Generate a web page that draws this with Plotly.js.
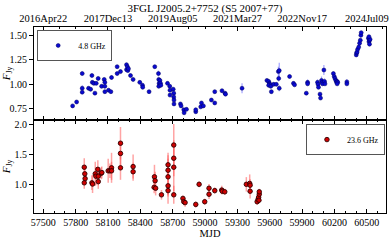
<!DOCTYPE html>
<html><head><meta charset="utf-8">
<script src="https://cdn.plot.ly/plotly-3.0.1.min.js"></script>
<style>html,body{margin:0;padding:0;background:#fff}#c{width:389px;height:240px}</style>
</head><body><div id="c"></div>
<script>
const mjd48 = [57772,57809,57861,57861,57861,57920,57939,57951,57955,57969,57979,57991,58009,58041,58065,58071,58071,58071,58105,58127,58133,58185,58185,58216,58272,58272,58280,58284,58290,58309,58333,58395,58420,58422,58481,58534,58568,58571,58574,58571,58582,58587,58590,58652,58673,58675,58675,58705,58710,58710,58712,58712,58772,58778,58803,58806,58828,58914,58914,58967,58960,58985,59059,59090,59090,59157,59185,59190,59343,59574,59590,59597,59600,59590,59610,59615,59636,59661,59680,59688,59683,59688,59784,59820,59830,59939,59951,59951,60043,60048,60052,60066,60071,60080,60085,60090,60102,60108,60112,60190,60198,60205,60213,60220,60225,60230,60225,60315,60315,60402,60405,60410,60415,60425,60433,60440,60445,60448,60515,60520,60525,60530,60525,60520];
const flux48 = [0.78,0.82,1.11,0.96,0.92,0.96,0.95,1.09,1.02,1.01,0.91,1.01,1.06,0.98,1.05,1.02,0.98,0.925,0.94,0.925,1.07,1.18,1.11,1.13,1.20,1.15,1.18,1.14,1.16,1.09,1.05,1.02,0.99,0.97,0.925,1.18,1.11,1.05,1.01,0.98,1.04,1.01,0.99,1.01,0.98,0.94,0.89,0.95,0.91,0.87,0.80,0.84,0.80,0.78,0.74,0.71,0.745,0.72,0.74,0.81,0.77,0.78,0.84,0.925,0.81,0.935,0.91,0.90,0.96,1.04,1.03,1.01,1.00,0.99,0.98,0.925,1.00,1.00,1.13,1.14,1.06,0.96,1.08,1.01,0.995,0.91,1.02,1.005,1.02,1.00,0.97,0.90,0.86,1.04,1.02,1.005,1.146,1.03,1.005,1.11,1.08,1.06,1.04,1.02,1.03,1.02,1.005,1.025,1.005,1.30,1.32,1.33,1.357,1.38,1.42,1.45,1.50,1.527,1.47,1.435,1.45,1.46,1.41,1.486];
const err48 = [0.015,0.015,0.02,0.03,0.02,0.02,0.02,0.02,0.02,0.02,0.015,0.02,0.02,0.02,0.02,0.02,0.02,0.02,0.02,0.02,0.025,0.02,0.02,0.02,0.02,0.02,0.02,0.02,0.02,0.02,0.02,0.02,0.02,0.02,0.02,0.02,0.03,0.02,0.02,0.02,0.02,0.02,0.02,0.02,0.02,0.02,0.02,0.02,0.02,0.02,0.02,0.02,0.02,0.02,0.02,0.02,0.02,0.02,0.02,0.02,0.02,0.02,0.02,0.02,0.02,0.02,0.02,0.02,0.05,0.02,0.02,0.02,0.02,0.02,0.02,0.02,0.02,0.02,0.05,0.08,0.03,0.03,0.02,0.02,0.02,0.02,0.03,0.02,0.03,0.02,0.02,0.02,0.02,0.04,0.03,0.02,0.05,0.03,0.02,0.02,0.02,0.02,0.02,0.02,0.02,0.02,0.02,0.03,0.02,0.02,0.02,0.02,0.02,0.02,0.02,0.02,0.02,0.02,0.02,0.02,0.02,0.02,0.02,0.02];

const mjd236 = [57880,57885,57888,57880,57951,57957,57982,57988,58006,58010,58010,58037,58043,58102,58118,58133,58133,58216,58216,58216,58333,58333,58531,58537,58528,58542,58596,58657,58657,58657,58657,58657,58710,58710,58710,58710,58795,58803,58815,58914,58945,58997,59037,59037,59090,59155,59160,59183,59383,59414,59418,59418,59483,59492,59497,59500,59503,59503];
const flux236 = [1.28,1.17,1.09,1.02,1.02,1.00,1.17,1.13,1.245,1.13,1.04,1.18,1.19,1.22,1.22,1.27,1.22,1.68,1.51,1.27,1.29,1.205,1.12,1.055,0.945,0.93,0.82,1.32,1.23,1.12,0.97,0.89,1.65,1.43,1.28,0.82,0.76,0.705,0.69,0.66,0.995,0.705,0.93,0.83,0.89,0.90,0.88,0.87,0.995,1.01,0.98,0.88,0.705,0.745,0.78,0.73,0.83,0.87];
const err236 = [0.15,0.12,0.1,0.1,0.12,0.15,0.2,0.15,0.15,0.15,0.12,0.1,0.1,0.2,0.12,0.25,0.15,0.27,0.2,0.2,0.2,0.15,0.2,0.15,0.1,0.12,0.08,0.2,0.25,0.3,0.3,0.1,0.35,0.3,0.4,0.15,0.05,0.06,0.07,0.05,0.05,0.05,0.07,0.08,0.05,0.07,0.05,0.05,0.12,0.15,0.1,0.12,0.05,0.05,0.05,0.05,0.05,0.05];

const mjdTicks = [57500,57800,58100,58400,58700,59000,59300,59600,59900,60200,60500];
const mjdTickText = ['57500','57800','58100','58400','58700','59000','59300','59600','59900','60200','60500'];
const dateTickVals = [57500,58100,58700,59300,59900,60500];
const dateTickText = ['2016Apr22','2017Dec13','2019Aug05','2021Mar27','2022Nov17','2024Jul09'];
const xRange = [57414, 60678];

const F = 'Liberation Serif';
const traces = [
  {x: mjd48, y: flux48, xaxis:'x2', yaxis:'y2', mode:'markers', type:'scatter', name:'4.8 GHz', legend:'legend',
   marker:{color:'#0a0ad0', size:4, line:{color:'#000060', width:0.5}},
   error_y:{type:'data', array: err48, visible:true, color:'rgba(90,90,255,0.55)', thickness:1.2, width:0}},
  {x: mjd236, y: flux236, xaxis:'x', yaxis:'y', mode:'markers', type:'scatter', name:'23.6 GHz', legend:'legend2',
   marker:{color:'#d00000', size:4.5, line:{color:'#300000', width:0.9}},
   error_y:{type:'data', array: err236, visible:true, color:'rgba(255,90,90,0.55)', thickness:1.5, width:0}},
  {x: [xRange[0]], y: [1], xaxis:'x3', yaxis:'y2', mode:'markers', marker:{opacity:0}, showlegend:false, hoverinfo:'skip'}
];

const common = {showline:true, linecolor:'#000', linewidth:1, zeroline:false, showgrid:false,
  tickfont:{family:F, size:10, color:'#000'}, ticklen:4, tickcolor:'#000'};

const layout = {
  width:389, height:240, margin:{l:34, r:3, t:27, b:27},
  paper_bgcolor:'#fff', plot_bgcolor:'#fff', font:{family:F, color:'#000'},
  title:{text:'3FGL J2005.2+7752 (S5 2007+77)', font:{family:F, size:11, color:'#000'},
         x:0.527, xanchor:'center', y:0.966, yanchor:'middle', yref:'container', xref:'container'},
  xaxis: Object.assign({}, common, {anchor:'y', range:xRange, tickmode:'array', tickvals:mjdTicks, ticktext:mjdTickText,
     ticks:'inside', mirror:'ticks',
     minor:{tickmode:'linear', tick0:57500, dtick:100, ticks:'inside', ticklen:2, tickcolor:'#000'},
     title:{text:'MJD', font:{family:F, size:10.5, color:'#000'}, standoff:2}}),
  xaxis2: Object.assign({}, common, {anchor:'y2', matches:'x', range:xRange, tickmode:'array', tickvals:mjdTicks,
     ticks:'inside', showticklabels:false, mirror:false,
     minor:{tickmode:'linear', tick0:57500, dtick:100, ticks:'inside', ticklen:2, tickcolor:'#000'}}),
  xaxis3: Object.assign({}, common, {anchor:'y2', overlaying:'x2', side:'top', range:xRange,
     tickmode:'array', tickvals:dateTickVals, ticktext:dateTickText, ticks:'inside',
     tickfont:{family:F, size:10.5, color:'#000'},
     minor:{tickmode:'linear', tick0:57500, dtick:150, ticks:'inside', ticklen:2, tickcolor:'#000'}}),
  yaxis: Object.assign({}, common, {domain:[0,0.5], anchor:'x', range:[0.517,2.067],
     tickmode:'array', tickvals:[1.0,1.5,2.0], ticktext:['1.0','1.5','2.0'], ticks:'outside', mirror:true,
     minor:{tickmode:'linear', tick0:0.5, dtick:0.25, ticks:'outside', ticklen:2, tickcolor:'#000'},
     title:{text:'<i>F</i><sub>Jy</sub>', font:{family:F, size:11, color:'#000'}, standoff:7}}),
  yaxis2: Object.assign({}, common, {domain:[0.5,1], anchor:'x2', range:[0.636,1.585],
     tickmode:'array', tickvals:[0.75,1.0,1.25,1.5], ticktext:['0.75','1.00','1.25','1.50'], ticks:'outside', mirror:true,
     title:{text:'<i>F</i><sub>Jy</sub>', font:{family:F, size:11, color:'#000'}, standoff:5}}),
  legend:{x:0.009, y:0.984, xanchor:'left', yanchor:'top', bordercolor:'#555', borderwidth:1, bgcolor:'#fff',
     font:{family:F, size:8, color:'#000'}, itemwidth:30, itemsizing:'trace', tracegroupgap:0},
  legend2:{x:0.997, y:0.478, xanchor:'right', yanchor:'top', bordercolor:'#555', borderwidth:1, bgcolor:'#fff',
     font:{family:F, size:8, color:'#000'}, itemwidth:30, itemsizing:'trace', tracegroupgap:0},
  showlegend:true
};

Plotly.newPlot('c', traces, layout, {displayModeBar:false, staticPlot:true});
</script></body></html>
